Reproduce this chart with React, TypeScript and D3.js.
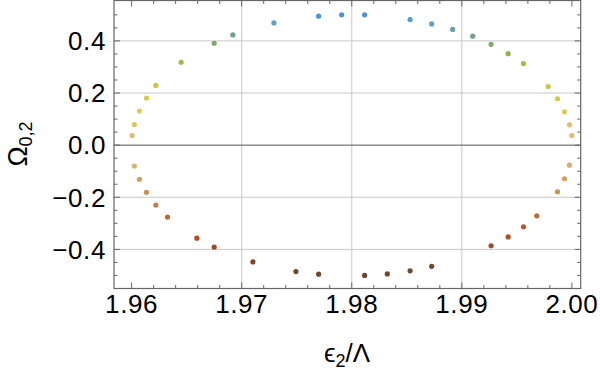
import React from 'react';
import * as d3 from 'd3';

// upper branch (Omega > 0)
const upperX = [1.96005, 1.96025, 1.96071, 1.96135, 1.9622, 1.9645, 1.9675, 1.9692, 1.97293, 1.97699, 1.97908, 1.98117,
  1.9853, 1.98726, 1.98917, 1.99099, 1.99266, 1.99421, 1.9956, 1.99785, 1.99869, 1.99933, 1.99978, 1.99999];
const upperY = [0.037, 0.079, 0.131, 0.181, 0.229, 0.318, 0.391, 0.423, 0.469, 0.495, 0.5, 0.5,
  0.482, 0.465, 0.444, 0.418, 0.387, 0.351, 0.313, 0.225, 0.178, 0.128, 0.078, 0.037];

// lower branch (Omega < 0)
const lowerX = [1.96025, 1.96071, 1.96135, 1.9622, 1.96326, 1.96593, 1.9675, 1.97102, 1.97493, 1.97699, 1.98117,
  1.98323, 1.9853, 1.98726, 1.99266, 1.99421, 1.9956, 1.99681, 1.99869, 1.99933, 1.99978];
const lowerY = [-0.08, -0.131, -0.181, -0.23, -0.276, -0.357, -0.391, -0.448, -0.485, -0.495, -0.5,
  -0.494, -0.482, -0.465, -0.386, -0.352, -0.313, -0.271, -0.179, -0.129, -0.077];

const xTicks = [1.96, 1.97, 1.98, 1.99, 2.0];
const xTickLabels = ['1.96', '1.97', '1.98', '1.99', '2.00'];
const yTicks = [-0.4, -0.2, 0, 0.2, 0.4];
const yTickLabels = ['\u22120.4', '\u22120.2', '0.0', '0.2', '0.4'];
const xGrid = [1.97, 1.98, 1.99];
const yGrid = [-0.4, -0.2, 0.2, 0.4];

// colour by Omega value
const colorStops = [-0.5, -0.46, -0.39, -0.3, -0.2, -0.08, 0.04, 0.15, 0.25, 0.33, 0.39, 0.43, 0.47, 0.5];
const colorValues = ['#684830', '#7a4528', '#a84525', '#bd5a28', '#c98a48', '#d8b070', '#dcc070', '#dccc50',
  '#c8c440', '#a0b448', '#80a868', '#6c9fa0', '#5fa0c8', '#4a92de'];

const font = '"Liberation Sans", Arial, sans-serif';

const App = () => {
  const width = 600;
  const height = 372;
  const left = 114, right = 580.7, top = 0.5, bottom = 288.5;

  const xScale = d3.scaleLinear().domain([1.9584, 2.0008]).range([left, right]);
  const yScale = d3.scaleLinear().domain([-0.55, 0.555]).range([bottom, top]);
  const color = d3.scaleLinear<string>().domain(colorStops).range(colorValues).clamp(true);

  const xMinor = d3.range(1.96, 2.0001, 0.002).filter(v => !xTicks.some(t => Math.abs(t - v) < 1e-6));
  const yMinor = d3.range(-0.5, 0.5001, 0.05).filter(v => !yTicks.some(t => Math.abs(t - v) < 1e-6));

  const points = [
    ...upperX.map((x, i) => ({ x, y: upperY[i] })),
    ...lowerX.map((x, i) => ({ x, y: lowerY[i] })),
  ];

  const tickColor = '#666';
  const major = 6, minor = 3.5;

  return (
    <svg width={width} height={height} style={{ position: 'absolute', left: 0, top: 0 }}>
      <rect x={0} y={0} width={width} height={height} fill='#fff' />
      {xGrid.map(v => (
        <line key={'gx' + v} x1={xScale(v)} x2={xScale(v)} y1={top} y2={bottom} stroke='#c8c8c8' strokeWidth={1} />
      ))}
      {yGrid.map(v => (
        <line key={'gy' + v} x1={left} x2={right} y1={yScale(v)} y2={yScale(v)} stroke='#c8c8c8' strokeWidth={1} />
      ))}
      <line x1={left} x2={right} y1={yScale(0)} y2={yScale(0)} stroke='#555' strokeWidth={1} />

      {/* frame ticks on all four sides */}
      {xTicks.map(v => (
        <g key={'xt' + v}>
          <line x1={xScale(v)} x2={xScale(v)} y1={bottom} y2={bottom - major} stroke={tickColor} />
          <line x1={xScale(v)} x2={xScale(v)} y1={top} y2={top + major} stroke={tickColor} />
        </g>
      ))}
      {xMinor.map(v => (
        <g key={'xm' + v}>
          <line x1={xScale(v)} x2={xScale(v)} y1={bottom} y2={bottom - minor} stroke={tickColor} />
          <line x1={xScale(v)} x2={xScale(v)} y1={top} y2={top + minor} stroke={tickColor} />
        </g>
      ))}
      {yTicks.map(v => (
        <g key={'yt' + v}>
          <line x1={left} x2={left + major} y1={yScale(v)} y2={yScale(v)} stroke={tickColor} />
          <line x1={right} x2={right - major} y1={yScale(v)} y2={yScale(v)} stroke={tickColor} />
        </g>
      ))}
      {yMinor.map(v => (
        <g key={'ym' + v}>
          <line x1={left} x2={left + minor} y1={yScale(v)} y2={yScale(v)} stroke={tickColor} />
          <line x1={right} x2={right - minor} y1={yScale(v)} y2={yScale(v)} stroke={tickColor} />
        </g>
      ))}
      <rect x={left} y={top} width={right - left} height={bottom - top} fill='none' stroke={tickColor} strokeWidth={1.2} />

      {points.map((d, i) => (
        <circle key={i} cx={xScale(d.x)} cy={yScale(d.y)} r={2.6} fill={color(d.y)} />
      ))}

      {xTicks.map((v, i) => (
        <text key={'xl' + v} x={xScale(v)} y={312.5} textAnchor='middle' fontFamily={font} fontSize={26} letterSpacing={0.6} fill='#000'>
          {xTickLabels[i]}
        </text>
      ))}
      {yTicks.map((v, i) => (
        <text key={'yl' + v} x={106} y={yScale(v) + 9.3} textAnchor='end' fontFamily={font} fontSize={26} letterSpacing={0.6} fill='#000'>
          {yTickLabels[i]}
        </text>
      ))}

      <text x={347} y={362} textAnchor='middle' fontFamily={font} fontSize={26} fill='#000'>
        <tspan>ϵ</tspan>
        <tspan fontSize={18} dy={5}>2</tspan>
        <tspan dy={-5}>/Λ</tspan>
      </text>
      <text transform='translate(27,144) rotate(-90)' textAnchor='middle' fontFamily={font} fontSize={27} fill='#000'>
        <tspan>Ω</tspan>
        <tspan fontSize={18} dy={5}>0,2</tspan>
      </text>
    </svg>
  );
};

export default App;
